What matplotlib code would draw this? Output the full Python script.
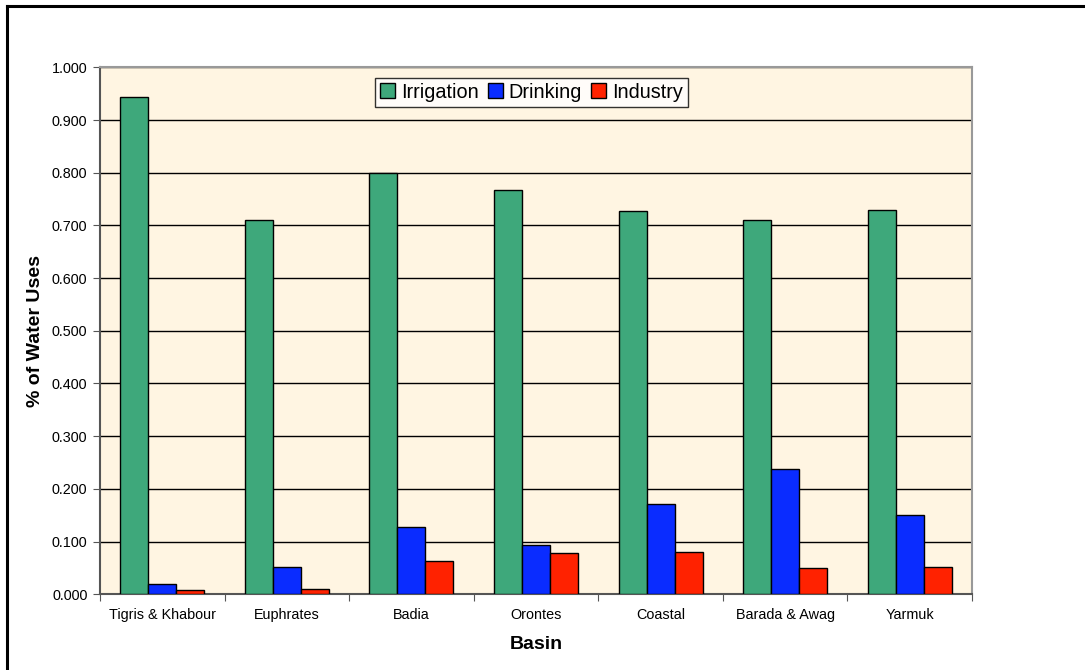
import matplotlib.pyplot as plt
import numpy as np
from matplotlib.lines import Line2D

plt.rcParams['font.family'] = ['Liberation Sans', 'DejaVu Sans']

basins = ['Tigris & Khabour', 'Euphrates', 'Badia', 'Orontes',
          'Coastal', 'Barada & Awag', 'Yarmuk']
irrigation = [0.943, 0.710, 0.799, 0.767, 0.728, 0.711, 0.729]
drinking = [0.019, 0.052, 0.127, 0.093, 0.171, 0.237, 0.151]
industry = [0.008, 0.010, 0.063, 0.078, 0.080, 0.050, 0.052]

series = [('Irrigation', irrigation, '#3ea87b'),
          ('Drinking', drinking, '#0a2cff'),
          ('Industry', industry, '#ff2200')]

W, H = 1085, 670
fig = plt.figure(figsize=(W / 100, H / 100), dpi=100)
ax = fig.add_axes([100 / W, (H - 594.3) / H, 872 / W, 527 / H])
ax.set_facecolor('#fff5e2')

x = np.arange(len(basins))
bw = 0.225
for i, (name, vals, col) in enumerate(series):
    ax.bar(x + (i - 1) * bw, vals, bw, color=col, edgecolor='black',
           linewidth=1.0, label=name, zorder=3)

ax.set_xlim(-0.5, len(basins) - 0.5)
ax.set_ylim(0, 1.0)
yt = np.arange(0, 1.01, 0.1)
ax.set_yticks(yt)
ax.set_yticklabels(['%.3f' % v for v in yt], fontsize=10.4)
ax.yaxis.grid(True, color='black', linewidth=1.0, zorder=1)
ax.set_axisbelow(True)

# category ticks at boundaries, labels at centers
ax.set_xticks(np.arange(-0.5, len(basins)), minor=False)
ax.set_xticklabels([])
ax.set_xticks(x, minor=True)
ax.set_xticklabels(basins, minor=True, fontsize=10.4)
ax.tick_params(axis='x', which='minor', length=0, pad=10)
ax.tick_params(axis='x', which='major', length=5, color='#555555', direction='out')
ax.tick_params(axis='y', length=5, color='#555555', direction='out', pad=4)

for s in ['left', 'bottom']:
    ax.spines[s].set_color('#555555')
    ax.spines[s].set_linewidth(1.5)
for s in ['top', 'right']:
    ax.spines[s].set_color('#999999')
    ax.spines[s].set_linewidth(1.5)

ax.set_xlabel('Basin', fontsize=14, fontweight='bold', labelpad=10)
ax.set_ylabel('% of Water Uses', fontsize=14, fontweight='bold', labelpad=6)

leg = ax.legend(loc='center', bbox_to_anchor=(0.495, 0.953), ncol=3,
                fontsize=14.3, frameon=True, fancybox=False, handlelength=0.75,
                handleheight=0.75, handletextpad=0.3, columnspacing=0.45,
                borderpad=0.25, borderaxespad=0)
leg.get_frame().set_edgecolor('black')
leg.get_frame().set_linewidth(1.0)

# outer chart border (left and top visible)
fig.add_artist(Line2D([7 / W, 1.0], [1 - 6 / H, 1 - 6 / H], color='black',
                      linewidth=2.2, transform=fig.transFigure))
fig.add_artist(Line2D([7 / W, 7 / W], [0, 1 - 6 / H], color='black',
                      linewidth=2.2, transform=fig.transFigure))

fig.savefig('out.png', dpi=100)
